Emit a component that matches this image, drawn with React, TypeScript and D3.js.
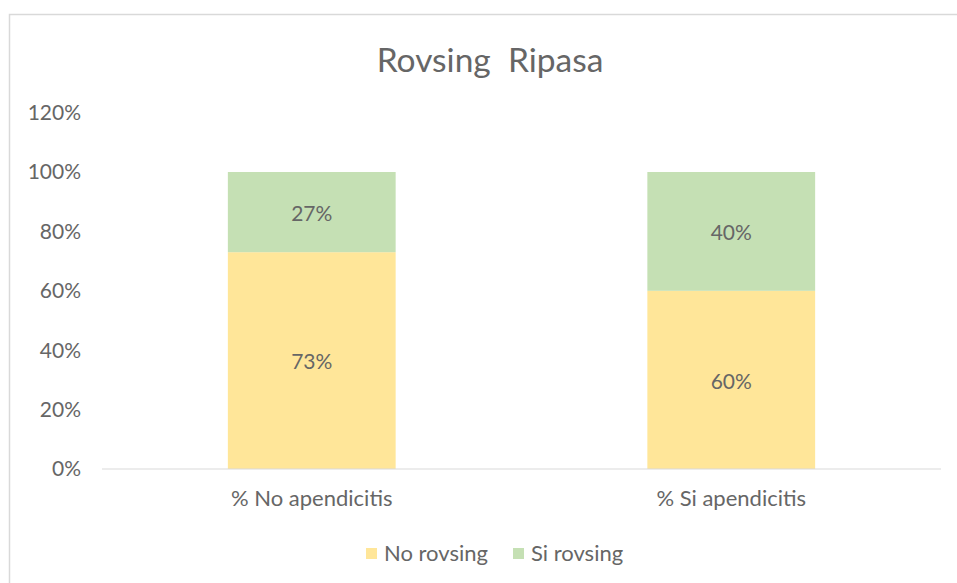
import React, { useRef, useEffect } from "react";
import * as d3 from "d3";

// chart values
const categories = ["% No apendicitis", "% Si apendicitis"];
const seriesNames = ["No rovsing", "Si rovsing"];
const noRovsing = [0.73, 0.6];
const siRovsing = [0.27, 0.4];
const yTicks = [0, 0.2, 0.4, 0.6, 0.8, 1.0, 1.2];
const colors = ["#FFE699", "#C5E0B4"];

const FONT = "Lato, 'Open Sans', sans-serif";
const TEXT = "#666666";
const FS = 21;

export default function App() {
  const svgRef = useRef<SVGSVGElement>(null);

  useEffect(() => {
    document.body.style.margin = "0";
    const svg = d3.select(svgRef.current);
    svg.selectAll("*").remove();

    const width = 957;
    const height = 583;
    const margin = { top: 112.6, right: 16, left: 102 };
    const innerW = width - margin.left - margin.right;
    const innerH = 469 - margin.top;

    svg.attr("width", width).attr("height", height);

    // chart frame (cropped at right & bottom)
    svg.append("rect")
      .attr("x", 9.5)
      .attr("y", 14.5)
      .attr("width", 1000)
      .attr("height", 1000)
      .attr("fill", "#fff")
      .attr("stroke", "#d9d9d9")
      .attr("stroke-width", 1.5);

    svg.append("text")
      .attr("x", 490)
      .attr("y", 72)
      .attr("text-anchor", "middle")
      .attr("font-family", FONT)
      .attr("font-size", 33.5)
      .attr("fill", TEXT)
      .style("white-space", "pre")
      .text("Rovsing  Ripasa");

    const g = svg.append("g")
      .attr("transform", `translate(${margin.left},${margin.top})`);

    const x = d3.scaleBand().domain(categories).range([0, innerW]).padding(0);
    const y = d3.scaleLinear().domain([0, 1.2]).range([innerH, 0]);
    const barW = x.bandwidth() * 0.4;

    // y tick labels
    g.selectAll("text.ytick")
      .data(yTicks)
      .join("text")
      .attr("class", "ytick")
      .attr("x", -21)
      .attr("y", (d) => y(d))
      .attr("dy", "0.35em")
      .attr("text-anchor", "end")
      .attr("font-family", FONT)
      .attr("font-size", FS)
      .attr("fill", TEXT)
      .text((d) => d3.format(".0%")(d));

    const rows = categories.map((c, i) => ({ cat: c, no: noRovsing[i], si: siRovsing[i] }));
    const stacked = d3.stack<any>().keys(["no", "si"])(rows);

    stacked.forEach((layer, li) => {
      g.selectAll(`rect.s${li}`)
        .data(layer)
        .join("rect")
        .attr("class", `s${li}`)
        .attr("x", (d) => x(d.data.cat)! + (x.bandwidth() - barW) / 2)
        .attr("y", (d) => y(d[1]))
        .attr("width", barW)
        .attr("height", (d) => y(d[0]) - y(d[1]))
        .attr("fill", colors[li]);

      g.selectAll(`text.l${li}`)
        .data(layer)
        .join("text")
        .attr("class", `l${li}`)
        .attr("x", (d) => x(d.data.cat)! + x.bandwidth() / 2)
        .attr("y", (d) => (y(d[0]) + y(d[1])) / 2 + 1.5)
        .attr("dy", "0.35em")
        .attr("text-anchor", "middle")
        .attr("font-family", FONT)
        .attr("font-size", FS)
        .attr("fill", TEXT)
        .text((d) => d3.format(".0%")(d[1] - d[0]));
    });

    // baseline
    g.append("line")
      .attr("x1", 0)
      .attr("x2", innerW)
      .attr("y1", y(0))
      .attr("y2", y(0))
      .attr("stroke", "#d9d9d9")
      .attr("stroke-width", 1);

    // category labels
    g.selectAll("text.cat")
      .data(categories)
      .join("text")
      .attr("class", "cat")
      .attr("x", (d) => x(d)! + x.bandwidth() / 2)
      .attr("y", y(0) + 29)
      .attr("dy", "0.35em")
      .attr("text-anchor", "middle")
      .attr("font-family", FONT)
      .attr("font-size", 22)
      .attr("fill", TEXT)
      .text((d) => d);

    // legend
    const legendX = [366, 513];
    const lg = svg.append("g");
    seriesNames.forEach((name, i) => {
      lg.append("rect")
        .attr("x", legendX[i])
        .attr("y", 548)
        .attr("width", 11)
        .attr("height", 11)
        .attr("fill", colors[i]);
      lg.append("text")
        .attr("x", legendX[i] + 18)
        .attr("y", 553.5)
        .attr("dy", "0.35em")
        .attr("font-family", FONT)
        .attr("font-size", 22)
        .attr("fill", TEXT)
        .text(name);
    });
  }, []);

  return <svg ref={svgRef} style={{ display: "block" }} />;
}
